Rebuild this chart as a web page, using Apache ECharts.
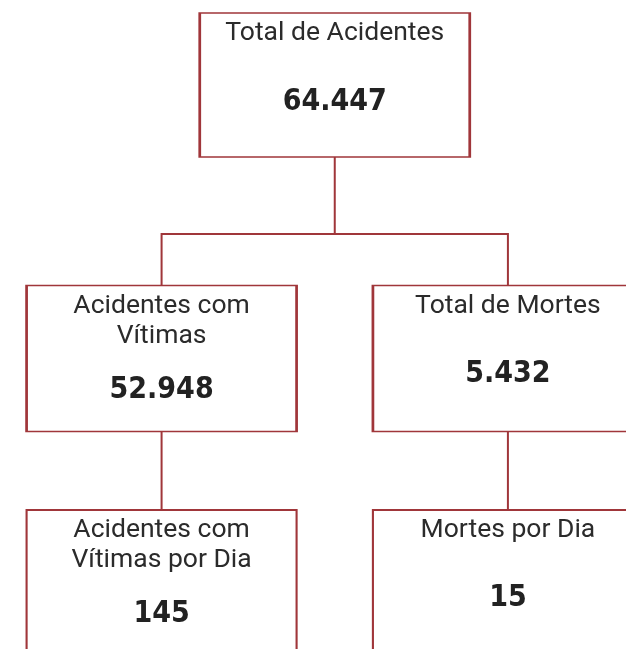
<!DOCTYPE html>
<html>
<head>
<meta charset="utf-8">
<script src="https://cdn.jsdelivr.net/npm/echarts@6/dist/echarts.min.js"></script>
<style>
  html, body { margin: 0; padding: 0; background: #fff; }
  #chart { width: 626px; height: 649px; }
</style>
</head>
<body>
<div id="chart"></div>
<script>
// ---- data ----
var rootName = 'Total de Acidentes';
var rootValue = 64447;
var branchNames = ['Acidentes com\nVítimas', 'Total de Mortes'];
var branchValues = [52948, 5432];
var leafNames = ['Acidentes com\nVítimas por Dia', 'Mortes por Dia'];
var leafValues = [145, 15];

var BORDER = '#a0363a';

function fmt(v) {
  return String(v).replace(/\B(?=(\d{3})+(?!\d))/g, '.');
}

var boxSizes = [[270, 144], [270, 146], [270, 244]];

function makeNode(name, value, depth, children) {
  var n = { name: name, value: value, symbol: 'rect', symbolSize: boxSizes[depth] };
  if (children) n.children = children;
  return n;
}

var treeData = makeNode(rootName, rootValue, 0, branchNames.map(function (nm, i) {
  return makeNode(nm, branchValues[i], 1, [makeNode(leafNames[i], leafValues[i], 2)]);
}));

var chart = echarts.init(document.getElementById('chart'), null, { renderer: 'canvas' });

var option = {
  backgroundColor: '#fff',
  animation: false,
  series: [{
    type: 'tree',
    data: [treeData],
    layout: 'orthogonal',
    orient: 'TB',
    left: 75,
    width: 519.5,
    top: 85,
    height: 547,
    roam: false,
    expandAndCollapse: false,
    initialTreeDepth: -1,
    edgeShape: 'polyline',
    edgeForkPosition: '54.5%',
    symbol: 'rect',
    itemStyle: { color: '#ffffff', borderColor: BORDER, borderWidth: 2 },
    lineStyle: { color: BORDER, width: 2, curveness: 0 },
    emphasis: { disabled: true },
    label: {
      show: true,
      position: 'insideTop',
      distance: 6.5,
      align: 'center',
      formatter: function (p) {
        var two = p.name.indexOf('\n') >= 0;
        var lines = p.name.split('\n').map(function (l) { return '{t|' + l + '}'; }).join('\n');
        return lines + '\n{' + (two ? 'v2' : 'v1') + '|' + fmt(p.value) + '}';
      },
      rich: {
        t: { fontFamily: 'Roboto', fontSize: 26.5, lineHeight: 30, color: '#2b2b2b', align: 'center' },
        v1: { fontFamily: 'DejaVu Sans Condensed', fontSize: 30, fontWeight: 'bold', lineHeight: 106, color: '#222222', align: 'center' },
        v2: { fontFamily: 'DejaVu Sans Condensed', fontSize: 30, fontWeight: 'bold', lineHeight: 78, color: '#222222', align: 'center' }
      }
    },
    leaves: {
      label: { position: 'insideTop' }
    }
  }]
};
chart.setOption(option);
</script>
</body>
</html>
